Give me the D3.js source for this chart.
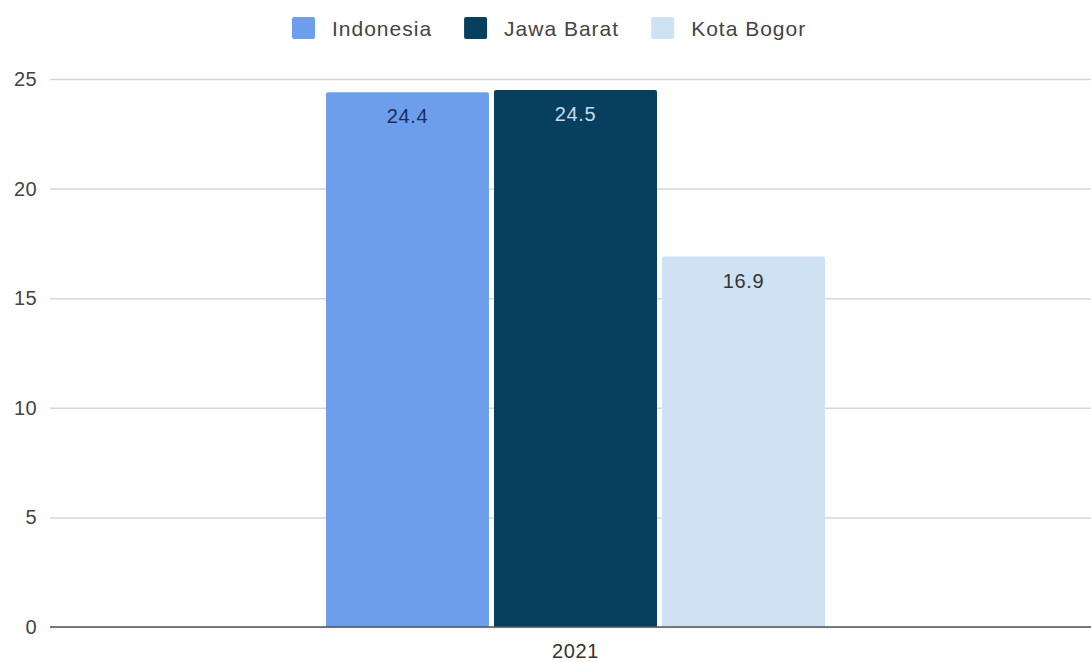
<!DOCTYPE html>
<html>
<head>
<meta charset="utf-8">
<script src="https://cdn.jsdelivr.net/npm/d3@7"></script>
<style>
  html, body { margin: 0; padding: 0; background: #fff; }
  svg { display: block; font-family: "Liberation Sans", Arial, sans-serif; }
</style>
</head>
<body>
<svg id="chart" width="1091" height="662"></svg>
<script>
const categories = ["2021"];
const seriesNames = ["Indonesia", "Jawa Barat", "Kota Bogor"];
const seriesValues = [[24.4], [24.5], [16.9]];
const seriesColors = ["#6d9eeb", "#073f5f", "#cfe2f3"];
const labelColors = ["#1b2d5c", "#c8dbea", "#333333"];
const yTicks = [0, 5, 10, 15, 20, 25];

const svg = d3.select("#chart");
const W = 1091, H = 662;
const m = { left: 50, right: -10, top: 79, bottom: 35 };

const y = d3.scaleLinear().domain([0, 25]).range([H - m.bottom, m.top]);
const x0 = d3.scaleBand().domain(categories).range([m.left, W - m.right]).paddingInner(0).paddingOuter(0.553);
const x1 = d3.scaleBand().domain(seriesNames).range([0, x0.bandwidth()]).paddingInner(0.03).paddingOuter(0);

// gridlines
const yAxis = d3.axisLeft(y).tickValues(yTicks).tickSize(-(W - m.left)).tickPadding(13);
const gy = svg.append("g").attr("transform", `translate(${m.left},0)`).call(yAxis);
gy.select(".domain").remove();
gy.selectAll(".tick line").attr("stroke", "#d6d6d6").attr("stroke-width", 1.5);
gy.selectAll(".tick text").attr("fill", "#444").style("font-size", "20px")
  .style("letter-spacing", "0.4px")
  .style("font-family", "'Liberation Sans', Arial, sans-serif");

// bars
const data = [];
categories.forEach((c, ci) => seriesNames.forEach((s, si) => data.push({ c, s, si, v: seriesValues[si][ci] })));

const g = svg.append("g");
g.selectAll("path.bar").data(data).enter().append("path")
  .attr("class", "bar")
  .attr("fill", d => seriesColors[d.si])
  .attr("d", d => {
    const xl = x0(d.c) + x1(d.s), w = x1.bandwidth();
    const yt = y(d.v), yb = y(0), r = 2;
    return `M${xl},${yb}V${yt + r}Q${xl},${yt} ${xl + r},${yt}H${xl + w - r}Q${xl + w},${yt} ${xl + w},${yt + r}V${yb}Z`;
  });

g.selectAll("text.lbl").data(data).enter().append("text")
  .attr("class", "lbl")
  .attr("x", d => x0(d.c) + x1(d.s) + x1.bandwidth() / 2)
  .attr("y", d => y(d.v) + 24)
  .attr("text-anchor", "middle")
  .attr("dominant-baseline", "central")
  .attr("fill", d => labelColors[d.si])
  .style("font-size", "20px")
  .style("letter-spacing", "0.6px")
  .text(d => d.v.toFixed(1));

// x axis baseline
svg.append("line")
  .attr("x1", m.left).attr("x2", W)
  .attr("y1", y(0)).attr("y2", y(0))
  .attr("stroke", "#555").attr("stroke-width", 1.5);

svg.append("g").selectAll("text").data(categories).enter().append("text")
  .attr("x", d => x0(d) + x0.bandwidth() / 2)
  .attr("y", y(0) + 24)
  .attr("text-anchor", "middle")
  .attr("dominant-baseline", "central")
  .attr("fill", "#333")
  .style("font-size", "20px")
  .style("letter-spacing", "0.6px")
  .text(d => d);

// legend
const leg = svg.append("g");
let lx = 292;
seriesNames.forEach((s, i) => {
  leg.append("rect").attr("x", lx).attr("y", 17).attr("width", 23).attr("height", 22)
    .attr("rx", 2).attr("fill", seriesColors[i]);
  const t = leg.append("text").attr("x", lx + 40).attr("y", 28)
    .attr("dominant-baseline", "central").attr("fill", "#444")
    .style("font-size", "21px").style("letter-spacing", "1px").text(s);
  lx = lx + 40 + t.node().getComputedTextLength() + 32;
});
</script>
</body>
</html>
